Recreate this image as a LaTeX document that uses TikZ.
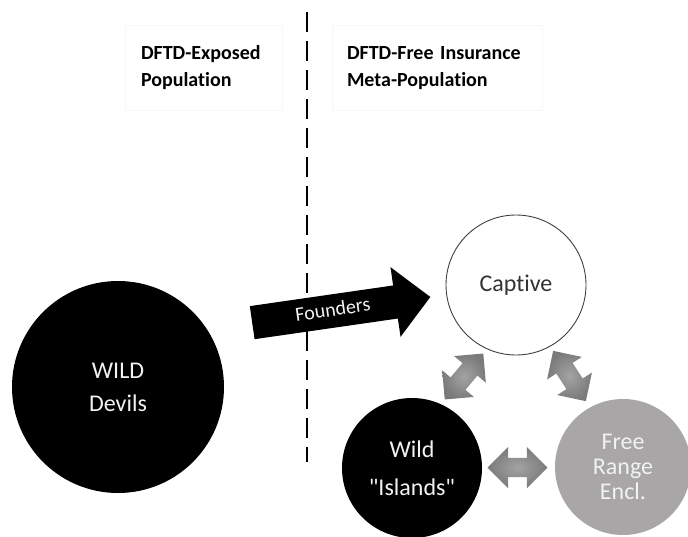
\documentclass[tikz,border=0pt]{standalone}
\usepackage{fontspec}
\setmainfont{Carlito}[Ligatures={TeXOff,CommonOff}]
\usetikzlibrary{shapes.arrows}
\usetikzlibrary{calc}
\definecolor{rangegrey}{RGB}{168,166,166}
\definecolor{labelwhite}{RGB}{242,242,242}
\tikzstyle{pop}=[circle, inner sep=0pt, align=center, font=\fontsize{24}{33}\selectfont]
\tikzstyle{wildpop}=[pop, fill=black, text=labelwhite, minimum size=212pt]
\tikzstyle{captivepop}=[pop, draw=black!75, line width=0.9pt, fill=white, text=black!80, minimum size=140pt]
\tikzstyle{islandpop}=[pop, fill=black, text=labelwhite, minimum size=140pt, font=\fontsize{24}{38}\selectfont]
\tikzstyle{rangepop}=[pop, fill=rangegrey, text=labelwhite, minimum size=136pt, font=\fontsize{24}{25}\selectfont]
\tikzstyle{title}=[align=left, draw=black!3, font=\bfseries\fontsize{20}{27}\selectfont, minimum height=85pt]
\tikzstyle{founderarrow}=[single arrow, fill=black, text=labelwhite, font=\fontsize{20}{24}\selectfont, minimum height=180pt, text height=14pt, text depth=4pt, inner ysep=7.5pt, inner xsep=0pt, single arrow head extend=18.5pt]
\tikzstyle{swaparrow}=[double arrow, shading=radial, inner color=black!36, outer color=black!52, minimum height=60pt, text height=0pt, text depth=0pt, inner ysep=9.5pt, inner xsep=0pt, double arrow head extend=11pt]
\tikzstyle{divider}=[line width=2.2pt, dash pattern=on 20pt off 9pt]

\begin{document}
\begin{tikzpicture}[x=1pt, y=-1pt]
        \useasboundingbox (0, 0) rectangle (688, 536);
        % headings either side of the divide
        \node[title, text width=125pt, inner xsep=16pt] (exposed) at (203.5, 68) {DFTD-Exposed\\Population};
        \node[title, text width=180pt, inner xsep=15pt] (insurance) at (437, 68) {DFTD-Free Insurance\\Meta-Population};
        \coordinate (divtop) at (307, 12);
        \coordinate (divbot) at (307, 462);
        \draw[divider] (divtop) -- (divbot);
        % populations
        \node[wildpop] (wild) at (118, 387) {WILD\\Devils};
        \node[captivepop] (captive) at (516, 285) {Captive};
        \node[islandpop] (islands) at (412, 468) {Wild\\"Islands"};
        \node[rangepop] (range) at (623, 467) {Free\\Range\\Encl.};
        % movements
        \node[founderarrow, rotate=8.2] (founders) at (333, 311) {Founders};
        \node[swaparrow, rotate=50] (capisl) at ($(captive)!0.5!(islands)$) {};
        \node[swaparrow, rotate=-57] (caprange) at ($(captive)!0.5!(range)$) {};
        \node[swaparrow] (islrange) at ($(islands)!0.5!(range)$) {};
    \end{tikzpicture}
\end{document}
